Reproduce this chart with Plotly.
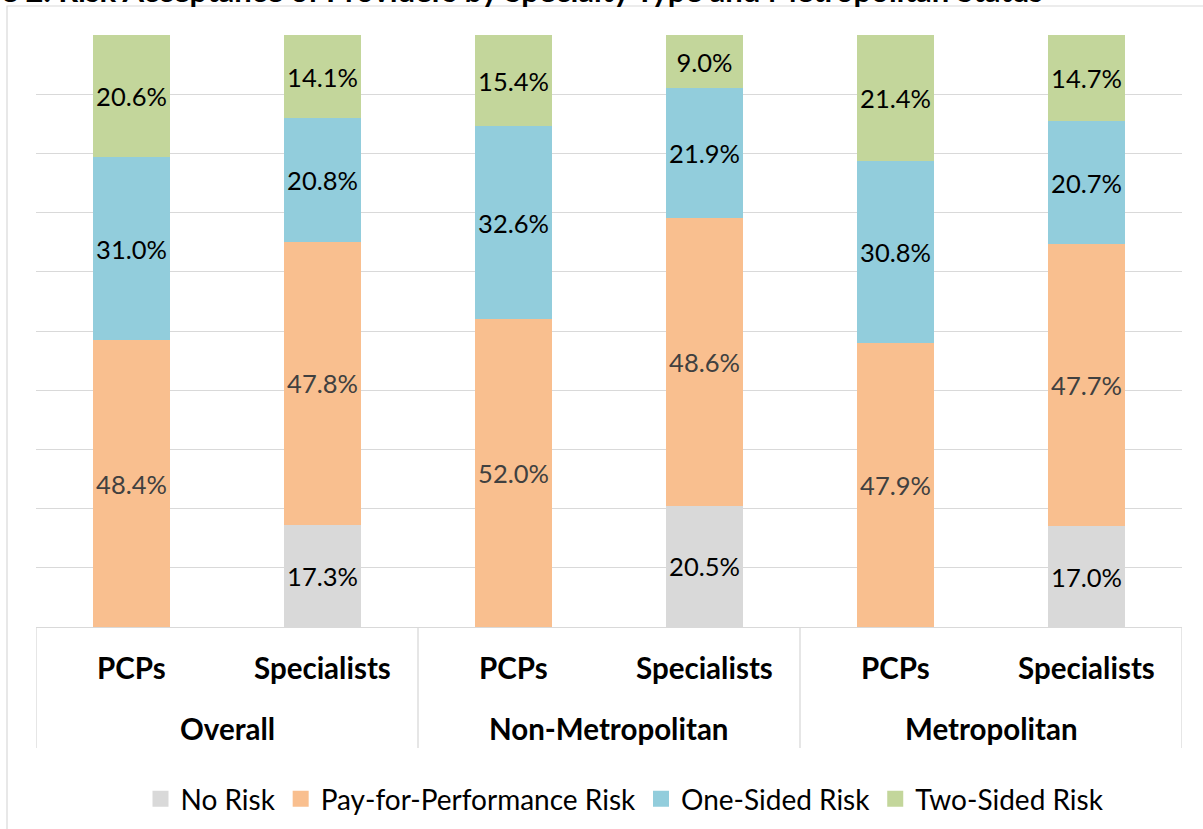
import plotly.graph_objects as go

# ---- data ----
groups = ["Overall", "Non-Metropolitan", "Metropolitan"]
types = ["PCPs", "Specialists"]
categories = [f"{g} {t}" for g in groups for t in types]

series_names = ["No Risk", "Pay-for-Performance Risk", "One-Sided Risk", "Two-Sided Risk"]
no_risk = [0, 17.3, 0, 20.5, 0, 17.0]
p4p_risk = [48.4, 47.8, 52.0, 48.6, 47.9, 47.7]
one_sided = [31.0, 20.8, 32.6, 21.9, 30.8, 20.7]
two_sided = [20.6, 14.1, 15.4, 9.0, 21.4, 14.7]

title_text = "Figure 2. Risk Acceptance of Providers by Specialty Type and Metropolitan Status"

# ---- style ----
colors = ["#D9D9D9", "#F9BF8F", "#92CDDC", "#C3D69B"]
label_colors = ["#000000", "#404040", "#000000", "#000000"]
FONT = "Lato"

W, H = 1203, 829
ML, MR, MT, MB = 36, 21, 35, 202
PW = W - ML - MR
PH = H - MT - MB


def px_to_py(p):
    return (H - MB - p) / PH


def px_to_px(p):
    return (p - ML) / PW


fig = go.Figure()
for name, vals, col, lc in zip(series_names, [no_risk, p4p_risk, one_sided, two_sided], colors, label_colors):
    fig.add_trace(go.Bar(
        x=categories, y=vals, name=name,
        marker=dict(color=col, line=dict(width=0)),
        text=[f"{v:.1f}%" if v else "" for v in vals],
        textposition="inside", insidetextanchor="middle", textangle=0,
        textfont=dict(family=FONT, size=25.5, color=lc),
        showlegend=False, hoverinfo="skip",
    ))
    # legend entry with a larger square swatch
    fig.add_trace(go.Scatter(
        x=[None], y=[None], mode="markers", name=name,
        marker=dict(symbol="square", size=18, color=col),
        showlegend=True, hoverinfo="skip",
    ))

annotations = []
for i, c in enumerate(categories):
    annotations.append(dict(
        x=i, xref="x", y=px_to_py(667), yref="paper", text=f"<b>{types[i % 2]}</b>",
        showarrow=False, xanchor="center", yanchor="middle",
        font=dict(family=FONT, size=29.5, color="#000000"),
    ))
for j, g in enumerate(groups):
    annotations.append(dict(
        x=2 * j + 0.5, xref="x", y=px_to_py(728), yref="paper", text=f"<b>{g}</b>",
        showarrow=False, xanchor="center", yanchor="middle",
        font=dict(family=FONT, size=29.5, color="#000000"),
    ))
annotations.append(dict(
    x=px_to_px(1045), xref="paper", y=px_to_py(11), yref="paper", text=f"<b>{title_text}</b>",
    showarrow=False, xanchor="right", yanchor="bottom",
    font=dict(family=FONT, size=31, color="#000000"),
))

shapes = [
    dict(type="rect", xref="paper", yref="paper", x0=px_to_px(7), x1=1.2,
         y0=-0.5, y1=px_to_py(6), line=dict(color="#D9D9D9", width=1.2),
         fillcolor="rgba(0,0,0,0)", layer="below"),
]
for xd in [-0.5, 1.5, 3.5, 5.5]:
    shapes.append(dict(type="line", xref="x", yref="paper", x0=xd, x1=xd,
                       y0=0, y1=px_to_py(748), line=dict(color="#D9D9D9", width=1.3)))

fig.update_layout(
    width=W, height=H,
    margin=dict(l=ML, r=MR, t=MT, b=MB, autoexpand=False),
    barmode="stack", bargap=0.6,
    plot_bgcolor="white", paper_bgcolor="white",
    font=dict(family=FONT, color="#000000"),
    uniformtext=dict(minsize=25.5, mode="show"),
    xaxis=dict(type="category", showticklabels=False, showgrid=False,
               showline=True, linecolor="#D9D9D9", linewidth=1.3,
               range=[-0.5, 5.5], zeroline=False, ticks=""),
    yaxis=dict(range=[0, 100], dtick=10, showticklabels=False, showgrid=True,
               gridcolor="#D9D9D9", gridwidth=1.3, zeroline=False, showline=False, ticks=""),
    legend=dict(orientation="h", x=px_to_px(625), xanchor="center",
                y=px_to_py(799), yanchor="middle",
                font=dict(family=FONT, size=28, color="#000000"),
                itemwidth=30, traceorder="normal", bgcolor="rgba(0,0,0,0)"),
    annotations=annotations, shapes=shapes,
)

fig.write_html(
    "out.html",
    config={"displayModeBar": False},
    post_script="document.body.style.margin='0';document.body.style.overflow='hidden';",
)
